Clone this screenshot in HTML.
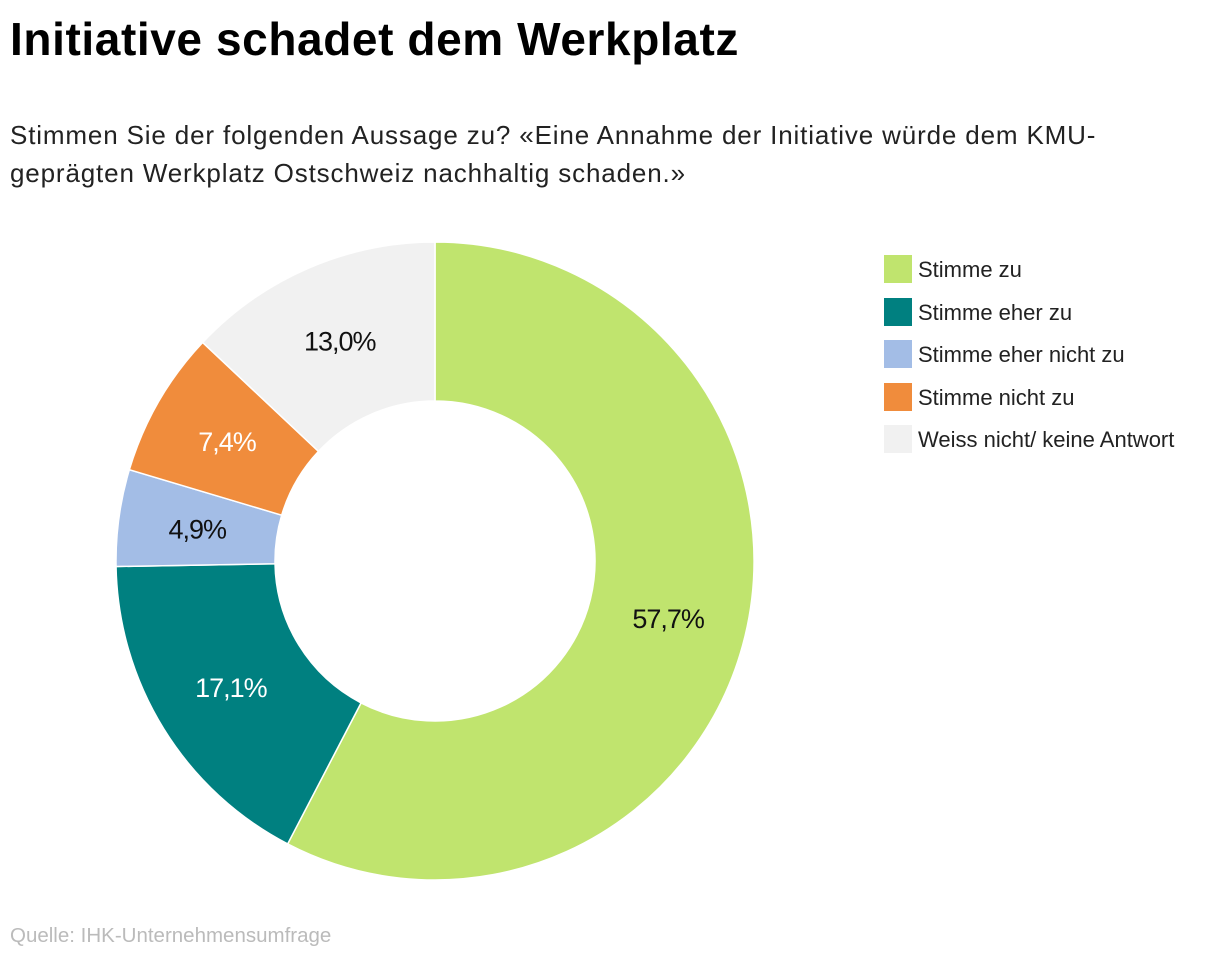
<!DOCTYPE html>
<html><head><meta charset="utf-8">
<style>
body{margin:0;width:1220px;height:960px;background:#fff;font-family:"Liberation Sans",sans-serif;overflow:hidden;position:relative}
h1{position:absolute;left:10px;top:12px;margin:0;font-size:46px;font-weight:bold;color:#000;letter-spacing:0.6px}
.sub{position:absolute;left:10px;top:116px;font-size:26px;line-height:38px;color:#222;width:1180px;letter-spacing:0.85px;white-space:nowrap}
.src{position:absolute;left:10px;top:924px;font-size:20.5px;color:#bbb}
.leg{position:absolute;left:884px;font-size:22px;color:#222;height:30px;line-height:30px}
.leg span{display:inline-block;width:28px;height:28px;vertical-align:middle;margin-right:6px;margin-top:-4px}
</style></head><body>
<h1>Initiative schadet dem Werkplatz</h1>
<div class="sub">Stimmen Sie der folgenden Aussage zu? «Eine Annahme der Initiative würde dem KMU-<br>geprägten Werkplatz Ostschweiz nachhaltig schaden.»</div>
<svg id="chart" width="1220" height="960" style="position:absolute;left:0;top:0"></svg>
<div id="legend"></div>
<div class="src">Quelle: IHK-Unternehmensumfrage</div>
<script>
const categories=["Stimme zu","Stimme eher zu","Stimme eher nicht zu","Stimme nicht zu","Weiss nicht/ keine Antwort"];
const values=[57.7,17.1,4.9,7.4,13.0];
const colors=["#c0e46e","#008080","#a3bde6","#f08c3c","#f1f1f1"];
const labelColors=["#111","#fff","#111","#fff","#111"];
const svg=document.getElementById('chart');
const NS="http://www.w3.org/2000/svg";
const cx=435,cy=561,R=319,r=160,rl=240;
const total=values.reduce((a,b)=>a+b,0);
function pt(a,rad){return [cx+rad*Math.sin(a),cy-rad*Math.cos(a)];}
let acc=0;
values.forEach((v,i)=>{
  const a0=acc/total*2*Math.PI;acc+=v;const a1=acc/total*2*Math.PI;
  const lg=(a1-a0)>Math.PI?1:0;
  const p0=pt(a0,R),p1=pt(a1,R),q1=pt(a1,r),q0=pt(a0,r);
  const p=document.createElementNS(NS,'path');
  p.setAttribute('d',`M${p0[0]},${p0[1]}A${R},${R} 0 ${lg} 1 ${p1[0]},${p1[1]}L${q1[0]},${q1[1]}A${r},${r} 0 ${lg} 0 ${q0[0]},${q0[1]}Z`);
  p.setAttribute('fill',colors[i]);p.setAttribute('stroke','#fff');p.setAttribute('stroke-width','1.5');
  
  
  svg.appendChild(p);
  const m=pt((a0+a1)/2,rl);
  const t=document.createElementNS(NS,'text');
  t.setAttribute('x',m[0]);t.setAttribute('y',m[1]+10);t.setAttribute('text-anchor','middle');
  t.setAttribute('font-size','27');t.setAttribute('fill',labelColors[i]);t.setAttribute('font-family','Liberation Sans, sans-serif');
  t.setAttribute('letter-spacing','-1');
  t.textContent=v.toFixed(1).replace('.',',')+'%';
  
  
  svg.appendChild(t);
});
const lg=document.getElementById('legend');
categories.forEach((c,i)=>{
  const d=document.createElement('div');d.className='leg';d.style.top=(255+i*42.5)+'px';
  d.innerHTML='<span style="background:'+colors[i]+'"></span>'+c;
  
  
  lg.appendChild(d);
});
</script>
</body></html>
